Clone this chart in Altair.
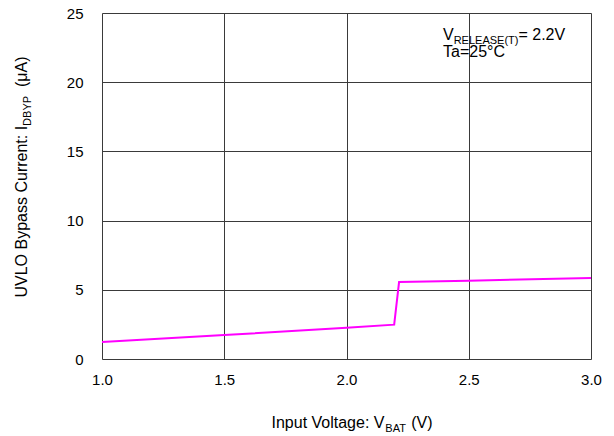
import altair as alt
import pandas as pd

vbat = [1.0, 1.5, 2.0, 2.195, 2.215, 2.5, 3.0]
idbyp = [1.22, 1.73, 2.25, 2.48, 5.56, 5.66, 5.85]
x_ticks = [1.0, 1.5, 2.0, 2.5, 3.0]
y_ticks = [0, 5, 10, 15, 20, 25]

FONT = "Liberation Sans"
F = 16
FS = 11
FT = 15

W = {" ": .278, "(": .333, ")": .333, ":": .278, "=": .584, ".": .278, "μ": .576,
     "0": .556, "1": .556, "2": .556, "5": .556}
UP = {"W": .944, "M": .833, "I": .278, "J": .5, "F": .611, "T": .611, "Z": .611, "L": .556,
      "E": .667, "B": .667, "K": .667, "P": .667, "S": .667, "V": .667, "X": .667, "Y": .667, "A": .667,
      "C": .722, "D": .722, "H": .722, "N": .722, "R": .722, "U": .722, "G": .778, "O": .778, "Q": .778}
LO = {"i": .222, "j": .222, "l": .222, "f": .278, "t": .278, "r": .333, "c": .5, "k": .5, "s": .5,
      "v": .5, "x": .5, "y": .5, "z": .5, "m": .833, "w": .722}


def tw(s, size):
    tot = 0
    for ch in s:
        if ch in W:
            tot += W[ch]
        elif ch in UP:
            tot += UP[ch]
        elif ch in LO:
            tot += LO[ch]
        else:
            tot += .556
    return tot * size


df = pd.DataFrame({"vbat": vbat, "idbyp": idbyp})
one = pd.DataFrame({"k": [0]})

line = alt.Chart(df).mark_line(color="#FF00FF", strokeWidth=2, clip=True).encode(
    x=alt.X("vbat:Q", scale=alt.Scale(domain=[1, 3], nice=False),
            axis=alt.Axis(values=x_ticks, format=".1f", title=None, ticks=False, domain=False,
                          labelPadding=13, labelFontSize=FT, labelFont=FONT, labelColor="black",
                          gridColor="#3a3a3a", gridWidth=1, labelFlush=False)),
    y=alt.Y("idbyp:Q", scale=alt.Scale(domain=[0, 25], nice=False),
            axis=alt.Axis(values=y_ticks, title=None, ticks=False, domain=False,
                          labelPadding=19, labelFontSize=FT, labelFont=FONT, labelColor="black",
                          gridColor="#3a3a3a", gridWidth=1, labelFlush=False)),
)


def piece(text, x, y, size, angle=0, dx=0, dy=0):
    stripped = text.lstrip(" ")
    dx += tw(text[:len(text) - len(stripped)], size)
    kw = dict(text=stripped, font=FONT, fontSize=size, color="black", align="left",
              baseline="alphabetic", dx=dx, dy=dy, fontWeight="normal")
    if angle:
        kw["angle"] = angle
    return alt.Chart(one).mark_text(**kw).encode(x=alt.value(x), y=alt.value(y))


layers = [line]

# x-axis title
xt = [("Input Voltage: V", F, 0), ("BAT", FS, 4), (" (V)", F, 0)]
total = sum(tw(t, s) for t, s, _ in xt)
cx, by = 352 - 102, 428 - 13
off = -total / 2
for t, s, d in xt:
    layers.append(piece(t, cx, by, s, dx=off, dy=d))
    off += tw(t, s)

# y-axis title (rotated)
yt = [("UVLO Bypass Current: I", F, 0), ("DBYP", FS, 4), ("  (μA)", F, 0)]
total = sum(tw(t, s) for t, s, _ in yt)
cy, bx = 177 - 13, 27 - 102
off = -total / 2
for t, s, d in yt:
    layers.append(piece(t, bx, cy, s, angle=270, dx=off, dy=d))
    off += tw(t, s)

# annotation
ax, ay = 443 - 102, 40 - 13
at = [("V", F, 0), ("RELEASE(T)", FS, 4), ("= 2.2V", F, 0)]
off = 0
for t, s, d in at:
    layers.append(piece(t, ax, ay, s, dx=off, dy=d))
    off += tw(t, s)
layers.append(piece("Ta=25°C", ax, ay + 17, F))

chart = alt.layer(*layers).properties(
    width=489, height=346,
    autosize=alt.AutoSizeParams(type="none"),
    padding={"left": 94, "top": 5, "right": 15, "bottom": 75},
).configure_view(stroke="black", strokeWidth=2).configure(background="white")

chart.save("out.html", embed_options={"renderer": "svg", "actions": False})
